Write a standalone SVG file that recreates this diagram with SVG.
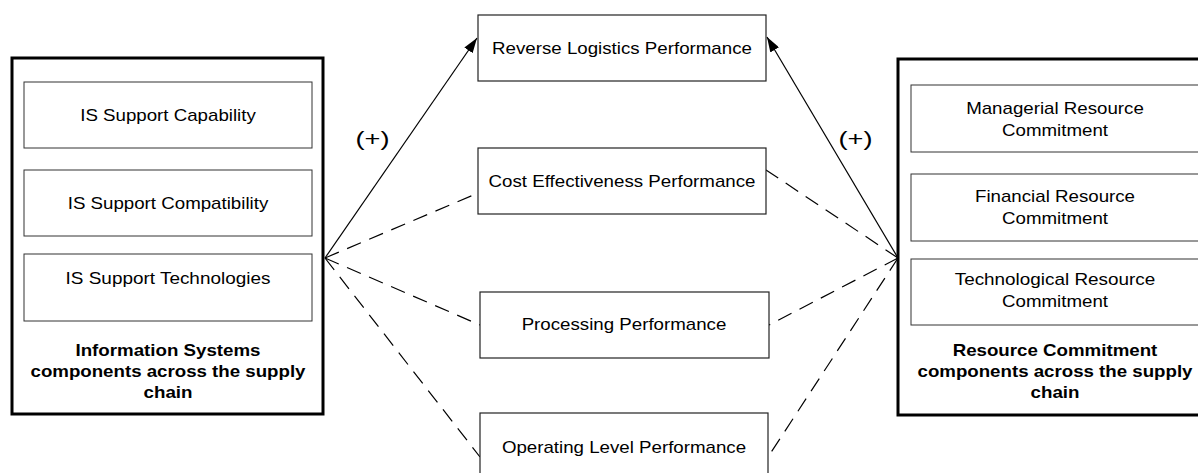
<svg xmlns="http://www.w3.org/2000/svg" width="1198" height="473" viewBox="0 0 1198 473">
<style>
text{font-family:"Liberation Sans",Arial,sans-serif;font-size:17px;fill:#000;text-anchor:middle}
.b{font-weight:bold}
.p{font-size:21px}
.outer{fill:#fff;stroke:#000;stroke-width:3}
.inner{fill:#fff;stroke:#333;stroke-width:1}
.mid{fill:#fff;stroke:#222;stroke-width:1.2}
.solid{stroke:#000;stroke-width:1.2;fill:none}
.dash{stroke:#000;stroke-width:1.2;fill:none;stroke-dasharray:15 9}
</style>
<defs>
<marker id="ah" markerUnits="userSpaceOnUse" markerWidth="16" markerHeight="10" refX="15" refY="5" orient="auto">
<path d="M0,0 L15,5 L0,10 z" fill="#000"/>
</marker>
</defs>
<rect width="1198" height="473" fill="#fff"/>

<g id="connectors">
<line class="solid" x1="325" y1="258" x2="477" y2="38" marker-end="url(#ah)"/>
<line class="solid" x1="898" y1="258" x2="767" y2="37" marker-end="url(#ah)"/>
<line class="dash" x1="325" y1="258" x2="478" y2="193"/>
<line class="dash" x1="325" y1="258" x2="480" y2="325"/>
<line class="dash" x1="325" y1="258" x2="480" y2="457"/>
<line class="dash" x1="898" y1="258" x2="766" y2="170"/>
<line class="dash" x1="898" y1="258" x2="769" y2="325"/>
<line class="dash" x1="898" y1="258" x2="768" y2="457"/>
</g>

<g id="is-group">
<rect class="outer" x="12" y="58" width="311" height="356"/>
<text class="b" x="168" y="356" textLength="185" lengthAdjust="spacingAndGlyphs">Information Systems</text>
<text class="b" x="168" y="377" textLength="275" lengthAdjust="spacingAndGlyphs">components across the supply</text>
<text class="b" x="168" y="398" textLength="49" lengthAdjust="spacingAndGlyphs">chain</text>
</g>
<g id="is-capability">
<rect class="inner" x="24" y="82" width="288" height="66"/>
<text x="168" y="121" textLength="175.6" lengthAdjust="spacingAndGlyphs">IS Support Capability</text>
</g>
<g id="is-compatibility">
<rect class="inner" x="24" y="170" width="288" height="66"/>
<text x="168" y="209" textLength="200.6" lengthAdjust="spacingAndGlyphs">IS Support Compatibility</text>
</g>
<g id="is-technologies">
<rect class="inner" x="24" y="254" width="288" height="67"/>
<text x="168" y="284" textLength="204.8" lengthAdjust="spacingAndGlyphs">IS Support Technologies</text>
</g>

<g id="rc-group">
<rect class="outer" x="898" y="59" width="314" height="356"/>
<text class="b" x="1055" y="356" textLength="204.7" lengthAdjust="spacingAndGlyphs">Resource Commitment</text>
<text class="b" x="1055" y="377" textLength="275" lengthAdjust="spacingAndGlyphs">components across the supply</text>
<text class="b" x="1055" y="398" textLength="49" lengthAdjust="spacingAndGlyphs">chain</text>
</g>
<g id="rc-managerial">
<rect class="inner" x="911" y="85" width="290" height="67"/>
<text x="1055" y="114" textLength="177.7" lengthAdjust="spacingAndGlyphs">Managerial Resource</text>
<text x="1055" y="136" textLength="106" lengthAdjust="spacingAndGlyphs">Commitment</text>
</g>
<g id="rc-financial">
<rect class="inner" x="911" y="174" width="290" height="67"/>
<text x="1055" y="202" textLength="160" lengthAdjust="spacingAndGlyphs">Financial Resource</text>
<text x="1055" y="224" textLength="106" lengthAdjust="spacingAndGlyphs">Commitment</text>
</g>
<g id="rc-technological">
<rect class="inner" x="911" y="259" width="290" height="66"/>
<text x="1055" y="285" textLength="200.6" lengthAdjust="spacingAndGlyphs">Technological Resource</text>
<text x="1055" y="307" textLength="106" lengthAdjust="spacingAndGlyphs">Commitment</text>
</g>

<g id="reverse-logistics">
<rect class="mid" x="478" y="15" width="288" height="66"/>
<text x="622" y="54" textLength="259.8" lengthAdjust="spacingAndGlyphs">Reverse Logistics Performance</text>
</g>
<g id="cost-effectiveness">
<rect class="mid" x="478" y="148" width="288" height="66"/>
<text x="622" y="187" textLength="267" lengthAdjust="spacingAndGlyphs">Cost Effectiveness Performance</text>
</g>
<g id="processing">
<rect class="mid" x="480" y="292" width="289" height="66"/>
<text x="624" y="330" textLength="204.7" lengthAdjust="spacingAndGlyphs">Processing Performance</text>
</g>
<g id="operating-level">
<rect class="mid" x="480" y="413" width="288" height="70"/>
<text x="624" y="453" textLength="244.2" lengthAdjust="spacingAndGlyphs">Operating Level Performance</text>
</g>

<g id="labels">
<text class="p" x="372.5" y="146" textLength="34" lengthAdjust="spacingAndGlyphs">(+)</text>
<text class="p" x="855.5" y="146" textLength="34" lengthAdjust="spacingAndGlyphs">(+)</text>
</g>
</svg>
